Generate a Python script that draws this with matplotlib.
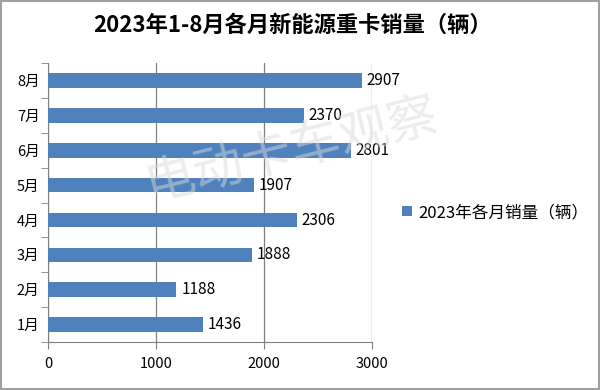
import matplotlib.pyplot as plt
from matplotlib.patches import Rectangle

plt.rcParams['font.family'] = ['Noto Sans CJK SC', 'DejaVu Sans']

months = ['1月', '2月', '3月', '4月', '5月', '6月', '7月', '8月']
sales = [1436, 1188, 1888, 2306, 1907, 2801, 2370, 2907]
xticks = [0, 1000, 2000, 3000]

fig = plt.figure(figsize=(6, 3.9), dpi=100)
ax = fig.add_axes([0.08, 0.123, 0.54, 0.715])

bars = ax.barh(range(len(months)), sales, height=0.42, color='#4F81BD',
               label='2023年各月销量（辆）', zorder=3)
for i, v in enumerate(sales):
    ax.text(v + 45, i, str(v), va='center', ha='left', fontsize=11, color='black')

ax.set_xlim(0, 3000)
ax.set_ylim(-0.5, len(months) - 0.5)
ax.set_xticks(xticks)
ax.set_xticklabels([str(t) for t in xticks], fontsize=10.5)
ax.set_yticks(range(len(months)))
ax.set_yticklabels(months, fontsize=10.5)
ax.tick_params(axis='y', length=0, pad=6)
ax.set_yticks([i - 0.5 for i in range(len(months) + 1)], minor=True)
ax.tick_params(axis='y', which='minor', length=5, color='#808080')
ax.tick_params(axis='x', length=5, color='#808080', pad=6)
ax.grid(axis='x', color='#808080', linewidth=0.9, zorder=0)
for s in ['top', 'right']:
    ax.spines[s].set_visible(False)
for s in ['left', 'bottom']:
    ax.spines[s].set_color('#808080')

fig.text(0.488, 0.935, '2023年1-8月各月新能源重卡销量（辆）', ha='center', va='center',
         fontsize=16, fontweight='bold')

fig.legend(loc='center left', bbox_to_anchor=(0.645, 0.455), frameon=False,
           fontsize=12, handlelength=0.6, handleheight=0.6, handletextpad=0.35)

fig.text(0.487, 0.615, '电动卡车观察', ha='center', va='center', fontsize=36,
         color='#d9d9d9', alpha=0.5, rotation=14, zorder=5)

fig.patches.append(Rectangle((0.002, 0.003), 0.996, 0.994, transform=fig.transFigure,
                             fill=False, edgecolor='#a0a0a0', linewidth=1.5))

fig.savefig('out.png', dpi=100)
